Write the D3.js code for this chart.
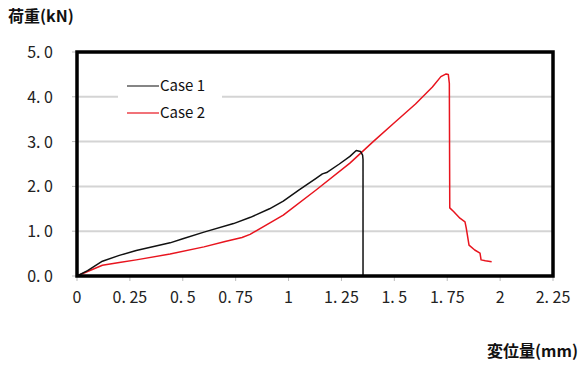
<!DOCTYPE html>
<html>
<head>
<meta charset="utf-8">
<script src="https://cdn.jsdelivr.net/npm/d3@7"></script>
<style>
  body { margin: 0; background: #fff; }
  text { font-family: "Noto Sans CJK JP", "Noto Sans", sans-serif; }
</style>
</head>
<body>
<div class="canvas"></div>
<script>
// data
const xTicks = [0, 0.25, 0.5, 0.75, 1, 1.25, 1.5, 1.75, 2, 2.25];
const xTickLabels = ["0", "0. 25", "0. 5", "0. 75", "1", "1. 25", "1. 5", "1. 75", "2", "2. 25"];
const yTicks = [0, 1, 2, 3, 4, 5];
const yTickLabels = ["0. 0", "1. 0", "2. 0", "3. 0", "4. 0", "5. 0"];
const seriesNames = ["Case 1", "Case 2"];

const case1X = [0, 0.05, 0.12, 0.2, 0.28, 0.44, 0.5, 0.6, 0.74, 0.82, 0.91, 0.975, 1.05, 1.13, 1.16, 1.18, 1.24, 1.29, 1.32, 1.34, 1.35, 1.352, 1.352];
const case1Y = [0, 0.12, 0.33, 0.46, 0.57, 0.74, 0.83, 0.98, 1.17, 1.31, 1.5, 1.67, 1.92, 2.18, 2.28, 2.31, 2.5, 2.67, 2.8, 2.78, 2.7, 2.6, 0];

const case2X = [0, 0.05, 0.12, 0.2, 0.28, 0.44, 0.6, 0.7, 0.78, 0.818, 0.91, 0.975, 1.13, 1.29, 1.4, 1.5, 1.6, 1.68, 1.72, 1.745, 1.755, 1.76, 1.762, 1.78, 1.81, 1.834, 1.84, 1.853, 1.88, 1.905, 1.91, 1.93, 1.96];
const case2Y = [0, 0.1, 0.24, 0.3, 0.36, 0.49, 0.65, 0.77, 0.86, 0.93, 1.18, 1.36, 1.92, 2.52, 3.0, 3.42, 3.84, 4.22, 4.45, 4.51, 4.5, 4.3, 1.52, 1.44, 1.29, 1.21, 1.07, 0.69, 0.58, 0.51, 0.36, 0.34, 0.32];

const width = 580;
const height = 365;

const svg = d3
  .select(".canvas")
  .append("svg")
  .attr("width", width)
  .attr("height", height);

const xScale = d3.scaleLinear().domain([0, 2.25]).range([77, 553]);
const yScale = d3.scaleLinear().domain([0, 5]).range([276, 52]);

// gridlines
svg
  .selectAll(".grid")
  .data(yTicks.filter((d) => d > 0 && d < 5))
  .enter()
  .append("line")
  .attr("x1", xScale(0))
  .attr("x2", xScale(2.25))
  .attr("y1", (d) => yScale(d))
  .attr("y2", (d) => yScale(d))
  .attr("stroke", "#d4d4d4")
  .attr("stroke-width", 2);

// tick marks
svg
  .selectAll(".xtick")
  .data(xTicks)
  .enter()
  .append("line")
  .attr("x1", (d) => xScale(d))
  .attr("x2", (d) => xScale(d))
  .attr("y1", yScale(0))
  .attr("y2", yScale(0) + 5)
  .attr("stroke", "#bbb")
  .attr("stroke-width", 1);

svg
  .selectAll(".ytick")
  .data(yTicks)
  .enter()
  .append("line")
  .attr("x1", xScale(0) - 5)
  .attr("x2", xScale(0))
  .attr("y1", (d) => yScale(d))
  .attr("y2", (d) => yScale(d))
  .attr("stroke", "#bbb")
  .attr("stroke-width", 1);

// tick labels
svg
  .selectAll(".xlabel")
  .data(xTicks)
  .enter()
  .append("text")
  .attr("x", (d) => xScale(d))
  .attr("y", 303)
  .attr("text-anchor", "middle")
  .attr("font-size", 16)
  .attr("fill", "#222")
  .text((d, i) => xTickLabels[i]);

svg
  .selectAll(".ylabel")
  .data(yTicks)
  .enter()
  .append("text")
  .attr("x", 53)
  .attr("y", (d) => yScale(d) + 6)
  .attr("text-anchor", "end")
  .attr("font-size", 16)
  .attr("fill", "#222")
  .text((d, i) => yTickLabels[i]);

// legend box (white, covers grid)
svg
  .append("rect")
  .attr("x", 118)
  .attr("y", 75)
  .attr("width", 104)
  .attr("height", 48)
  .attr("fill", "white");

// lines
const line = d3
  .line()
  .x((d) => xScale(d[0]))
  .y((d) => yScale(d[1]));

const case1 = case1X.map((x, i) => [x, case1Y[i]]);
const case2 = case2X.map((x, i) => [x, case2Y[i]]);

svg
  .append("path")
  .datum(case2)
  .attr("d", line)
  .attr("fill", "none")
  .attr("stroke", "#e8141e")
  .attr("stroke-width", 1.5)
  .attr("stroke-linejoin", "round");

svg
  .append("path")
  .datum(case1)
  .attr("d", line)
  .attr("fill", "none")
  .attr("stroke", "#111")
  .attr("stroke-width", 1.5)
  .attr("stroke-linejoin", "round");

// frame
svg
  .append("rect")
  .attr("x", xScale(0))
  .attr("y", yScale(5))
  .attr("width", xScale(2.25) - xScale(0))
  .attr("height", yScale(0) - yScale(5))
  .attr("fill", "none")
  .attr("stroke", "black")
  .attr("stroke-width", 3.5);

// legend
const colors = ["#333", "#e8141e"];
seriesNames.forEach((name, i) => {
  svg
    .append("line")
    .attr("x1", 127)
    .attr("x2", 159)
    .attr("y1", 86 + i * 27)
    .attr("y2", 86 + i * 27)
    .attr("stroke", colors[i])
    .attr("stroke-width", 1.2);
  svg
    .append("text")
    .attr("x", 160)
    .attr("y", 91 + i * 27)
    .attr("font-size", 15)
    .attr("fill", "#111")
    .text(name);
});

// axis titles
svg
  .append("text")
  .attr("x", 8)
  .attr("y", 22)
  .attr("font-size", 16)
  .attr("font-weight", "bold")
  .attr("fill", "#111")
  .text("荷重(kN)");

svg
  .append("text")
  .attr("x", 578)
  .attr("y", 357)
  .attr("text-anchor", "end")
  .attr("font-size", 16)
  .attr("font-weight", "bold")
  .attr("fill", "#111")
  .text("変位量(mm)");
</script>
</body>
</html>
